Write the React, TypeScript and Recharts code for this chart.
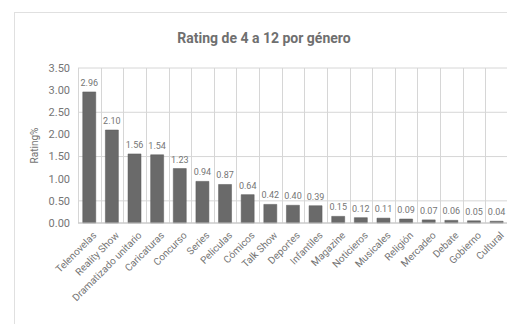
import { BarChart, Bar, XAxis, YAxis, CartesianGrid, LabelList } from "recharts"

const generos = [
  "Telenovelas",
  "Reality Show",
  "Dramatizado unitario",
  "Caricaturas",
  "Concurso",
  "Series",
  "Peliculas",
  "Cómicos",
  "Talk Show",
  "Deportes",
  "Infantiles",
  "Magazine",
  "Noticieros",
  "Musicales",
  "Religión",
  "Mercadeo",
  "Debate",
  "Gobierno",
  "Cultural",
]

const rating = [2.96, 2.1, 1.56, 1.54, 1.23, 0.94, 0.87, 0.64, 0.42, 0.4, 0.39, 0.15, 0.12, 0.11, 0.09, 0.07, 0.06, 0.05, 0.04]

const yTicks = [0, 0.5, 1, 1.5, 2, 2.5, 3, 3.5]

const data = generos.map((name, i) => ({ name, value: rating[i] }))

const FONT = "Roboto, 'Noto Sans', sans-serif"
const TEXT = "#757575"

// plot area layout
const CHART_W = 520
const Y_AXIS_W = 78
const RIGHT = 12
const plotW = CHART_W - Y_AXIS_W - RIGHT
// vertical grid on category boundaries (rounded to crisp pixels)
const gridX = Array.from({ length: generos.length + 1 }, (_, i) => Math.round(Y_AXIS_W + (i * plotW) / generos.length) + 0.5)

const GeneroTick = ({ x, y, payload }: any) => (
  <g transform={`translate(${x},${y})`}>
    <text x={0} y={0} dx={2} dy={9} textAnchor="end" transform="rotate(-45)" fontSize={10} fill={TEXT} fontFamily={FONT}>
      {payload.value}
    </text>
  </g>
)

export default function App() {
  return (
    <div style={{ position: "absolute", left: 0, top: 0, width: 507, height: 324, overflow: "hidden", background: "#fff" }}>
      <div
        style={{
          position: "absolute",
          left: 14,
          top: 12,
          width: 520,
          height: 400,
          border: "1px solid #e0e0e0",
        }}
      />
      <div
        style={{
          position: "absolute",
          left: 14,
          width: 500,
          top: 30,
          textAlign: "center",
          fontFamily: FONT,
          fontWeight: "bold",
          fontSize: 14,
          color: "#6f6f6f",
        }}
      >
        Rating de 4 a 12 por género
      </div>
      <div style={{ position: "absolute", left: 0, top: 0 }}>
        <BarChart
          width={CHART_W}
          height={324}
          data={data}
          margin={{ top: 68, right: RIGHT, bottom: 11, left: 0 }}
          barCategoryGap="21%"
        >
          <CartesianGrid stroke="#d6d6d6" verticalPoints={gridX} />
          <XAxis
            dataKey="name"
            interval={0}
            height={90}
            tick={<GeneroTick />}
            tickLine={false}
            axisLine={{ stroke: "#c4c4c4" }}
          />
          <YAxis
            width={Y_AXIS_W}
            domain={[0, 3.5]}
            ticks={yTicks}
            tickFormatter={(v: number) => v.toFixed(2)}
            tick={{ fontSize: 11, fill: TEXT, fontFamily: FONT }}
            tickLine={false}
            axisLine={false}
            tickMargin={2}
            label={{
              value: "Rating%",
              angle: -90,
              position: "insideLeft",
              offset: 34,
              style: { fontSize: 10, fill: TEXT, fontFamily: FONT, textAnchor: "middle" },
            }}
          />
          <Bar dataKey="value" fill="#6a6a6a" stroke="#5a5a5a" strokeWidth={0.5} isAnimationActive={false}>
            <LabelList
              dataKey="value"
              position="top"
              offset={6}
              formatter={(v: number) => v.toFixed(2)}
              style={{ fontSize: 9, fill: TEXT, fontFamily: FONT }}
            />
          </Bar>
        </BarChart>
      </div>
    </div>
  )
}
